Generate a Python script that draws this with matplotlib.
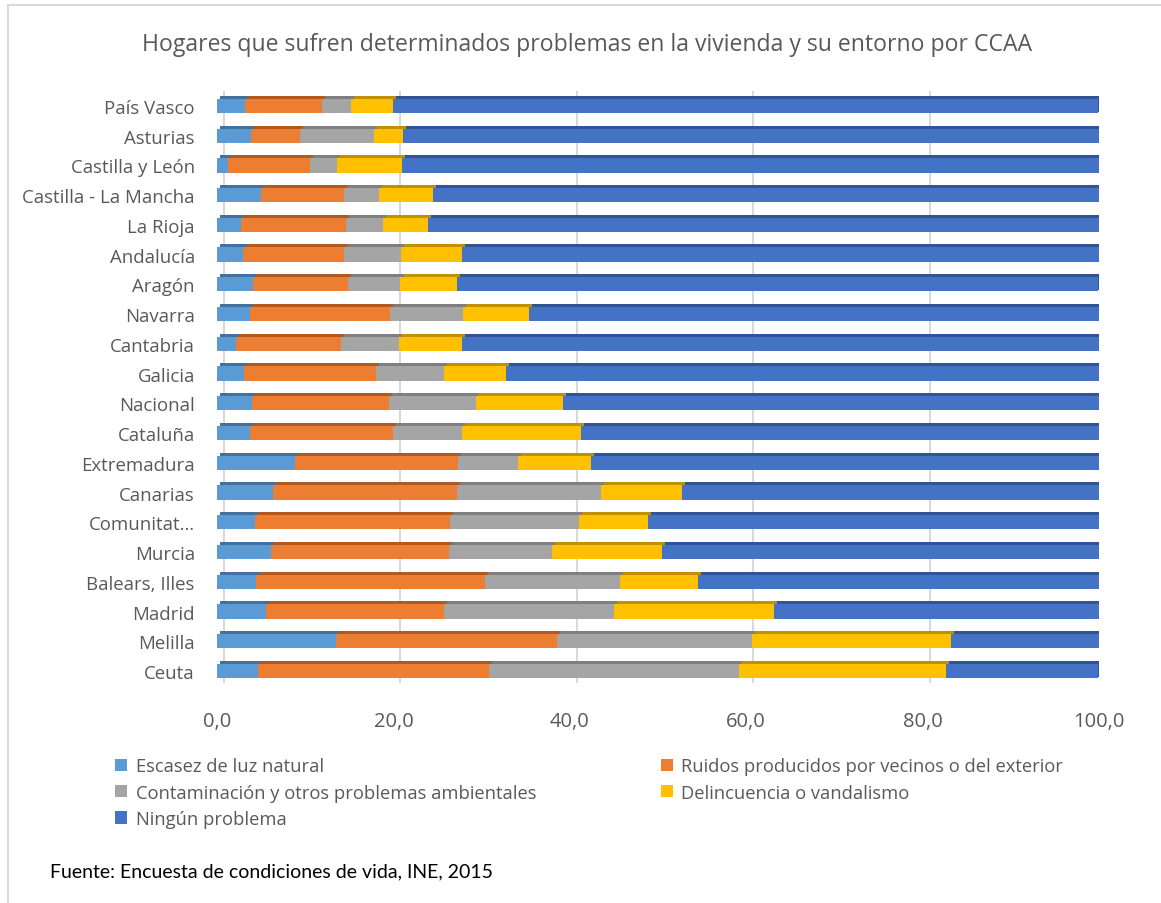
import numpy as np
import matplotlib.pyplot as plt
from matplotlib.lines import Line2D
from matplotlib.transforms import ScaledTranslation

plt.rcParams['font.family'] = ['Open Sans', 'DejaVu Sans']

# comunidades de arriba a abajo
ccaa = ['País Vasco', 'Asturias', 'Castilla y León', 'Castilla - La Mancha', 'La Rioja',
        'Andalucía', 'Aragón', 'Navarra', 'Cantabria', 'Galicia', 'Nacional', 'Cataluña',
        'Extremadura', 'Canarias', 'Comunitat…', 'Murcia', 'Balears, Illes', 'Madrid',
        'Melilla', 'Ceuta']

escasez = [3.2, 3.8, 1.2, 5.0, 2.7, 3.0, 4.1, 3.7, 2.1, 3.1, 4.0, 3.7, 8.8, 6.3, 4.3, 6.1, 4.4, 5.5, 13.5, 4.7]
ruidos = [8.7, 5.6, 9.3, 9.4, 11.9, 11.4, 10.7, 15.9, 12.0, 14.9, 15.5, 16.2, 18.5, 20.9, 22.1, 20.2, 26.0, 20.2, 25.0, 26.1]
contaminacion = [3.3, 8.4, 3.1, 4.0, 4.2, 6.5, 6.0, 8.3, 6.5, 7.7, 9.9, 7.9, 6.8, 16.3, 14.6, 11.7, 15.3, 19.3, 22.2, 28.4]
delincuencia = [4.7, 3.3, 7.4, 6.1, 5.1, 6.9, 6.4, 7.5, 7.2, 7.1, 9.8, 13.5, 8.3, 9.2, 7.9, 12.4, 8.8, 18.1, 22.5, 23.4]
ninguno = [80.0, 78.9, 79.0, 75.5, 76.1, 72.3, 72.7, 64.7, 72.3, 67.3, 60.8, 58.8, 57.6, 47.3, 51.1, 49.7, 45.6, 36.9, 16.9, 17.3]

series = ['Escasez de luz natural', 'Ruidos producidos por vecinos o del exterior',
          'Contaminación y otros problemas ambientales', 'Delincuencia o vandalismo',
          'Ningún problema']
colores = ['#5B9BD5', '#ED7D31', '#A5A5A5', '#FFC000', '#4472C4']
oscuros = ['#41719C', '#AE5A21', '#7F7F7F', '#BF9000', '#2F5597']

datos = np.array([escasez, ruidos, contaminacion, delincuencia, ninguno])
y = np.arange(len(ccaa))[::-1]

fig = plt.figure(figsize=(11.61, 9.04), dpi=100)
ax = fig.add_axes([217 / 1161, 0.2402, (1099 - 217) / 1161, 0.658])

alto = 0.48
izq = np.zeros(len(ccaa))
handles = []
for i in range(5):
    h = ax.barh(y, datos[i], left=izq, height=alto, color=colores[i], label=series[i], zorder=3)
    # borde superior mas oscuro (efecto 3D)
    ax.barh(y + alto / 2 + 0.05, datos[i], left=izq + 0.35, height=0.1, color=oscuros[i], zorder=3)
    handles.append(h)
    izq = izq + datos[i]

# lado derecho de la barra
ax.barh(y + 0.05, 0.35, left=izq, height=alto, color=oscuros[4], zorder=3)

ax.set_xlim(0, 100)
ax.set_ylim(-0.5, 19.5)
ax.set_yticks(y)
ax.set_yticklabels(ccaa, fontsize=13.4, color='#595959')
ax.set_xticks([0, 20, 40, 60, 80, 100])
ax.set_xticklabels(['0,0', '20,0', '40,0', '60,0', '80,0', '100,0'], fontsize=14.5, color='#595959')
ax.tick_params(axis='y', length=0, pad=16)
ax.tick_params(axis='x', length=0, pad=18)
for s in ax.spines.values():
    s.set_visible(False)

ax.grid(axis='x', color='#D9D9D9', linewidth=1.5, zorder=0)
ax.set_axisbelow(True)
desplaza = ScaledTranslation(7 / 100, 4 / 100, fig.dpi_scale_trans)
for gl in ax.get_xgridlines():
    gl.set_transform(gl.get_transform() + desplaza)

fig.text(587 / 1161, 1 - 45 / 904, 'Hogares que sufren determinados problemas en la vivienda y su entorno por CCAA',
         ha='center', va='center', fontsize=16.6, color='#595959')

orden = [0, 2, 4, 1, 3]
ax.legend([handles[k] for k in orden], [series[k] for k in orden], ncol=2,
          loc='upper left', bbox_to_anchor=(108 / 1161, 1 - 751 / 904), bbox_transform=fig.transFigure,
          frameon=False, fontsize=13.2, labelcolor='#595959', handlelength=0.65, handleheight=0.65,
          handletextpad=0.45, columnspacing=6.8, labelspacing=0.45, borderaxespad=0)

fig.text(50 / 1161, 1 - 872 / 904, 'Fuente: Encuesta de condiciones de vida, INE, 2015',
         ha='left', va='center', fontsize=14, color='black', family=['Lato', 'DejaVu Sans'])

# marco del grafico
fig.add_artist(Line2D([8 / 1161, 1], [1 - 6 / 904, 1 - 6 / 904], color='#D9D9D9', lw=1.5))
fig.add_artist(Line2D([8 / 1161, 8 / 1161], [0, 1 - 6 / 904], color='#D9D9D9', lw=1.5))

fig.savefig('out.png', dpi=100, facecolor='white')
